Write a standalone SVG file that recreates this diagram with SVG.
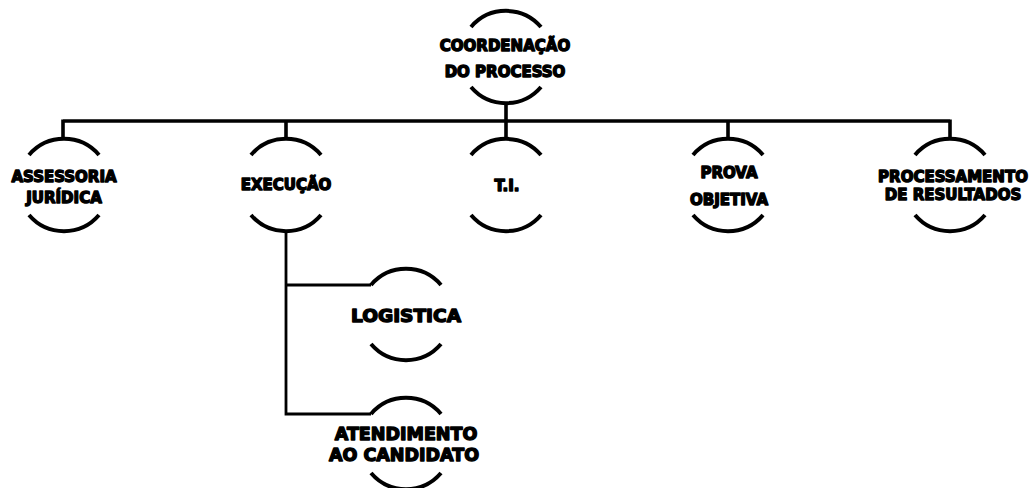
<svg xmlns="http://www.w3.org/2000/svg" width="1032" height="488" viewBox="0 0 1032 488">
<style>
.arc{fill:none;stroke:#000;stroke-width:4;stroke-linecap:butt}
.ln{fill:none;stroke:#000;stroke-width:3.6}
.ln2{fill:none;stroke:#000;stroke-width:2.8}
text{font-family:"DejaVu Sans","Liberation Sans",sans-serif;font-weight:bold;font-size:15px;fill:#000;stroke:#000;stroke-width:1.4;stroke-linejoin:round;text-anchor:middle}
.big{font-size:17.5px}
</style>
<rect width="1032" height="488" fill="#fff"/>
<g id="connectors">
<path class="ln" d="M506,103 V121 M63,121 H950 M63,119.5 V139 M286,119.5 V139 M506,119.5 V139 M728,119.5 V139 M950,119.5 V139"/>
<path class="ln2" d="M286,231 V414 H371 M286,285 H371"/>
</g>
<g id="n-coord">
<path class="arc" d="M471,27 A46,46 0 0 1 541,27 M471,87 A46,46 0 0 0 541,87"/>
<text x="505" y="51">COORDENAÇÃO</text>
<text x="505" y="77">DO PROCESSO</text>
</g>
<g id="n-assessoria">
<path class="arc" d="M29,155 A46,46 0 0 1 99,155 M29,215 A46,46 0 0 0 99,215"/>
<text x="64" y="182">ASSESSORIA</text>
<text x="64" y="203">JURÍDICA</text>
</g>
<g id="n-execucao">
<path class="arc" d="M251,155 A46,46 0 0 1 321,155 M251,215 A46,46 0 0 0 321,215"/>
<text x="286" y="190">EXECUÇÃO</text>
</g>
<g id="n-ti">
<path class="arc" d="M471,155 A46,46 0 0 1 541,155 M471,215 A46,46 0 0 0 541,215"/>
<text x="507" y="191">T.I.</text>
</g>
<g id="n-prova">
<path class="arc" d="M693,155 A46,46 0 0 1 763,155 M693,215 A46,46 0 0 0 763,215"/>
<text x="729" y="178">PROVA</text>
<text x="729" y="205">OBJETIVA</text>
</g>
<g id="n-processamento">
<path class="arc" d="M915,155 A46,46 0 0 1 985,155 M915,215 A46,46 0 0 0 985,215"/>
<text x="953" y="182">PROCESSAMENTO</text>
<text x="953" y="200">DE RESULTADOS</text>
</g>
<g id="n-logistica">
<path class="arc" d="M371,285 A46,46 0 0 1 441,285 M371,344 A46,46 0 0 0 441,344"/>
<text class="big" x="406" y="322" textLength="110" lengthAdjust="spacingAndGlyphs">LOGISTICA</text>
</g>
<g id="n-atendimento">
<path class="arc" d="M371,414 A46,46 0 0 1 441,414 M371,473 A46,46 0 0 0 441,473"/>
<text class="big" x="406" y="440">ATENDIMENTO</text>
<text class="big" x="404" y="461">AO CANDIDATO</text>
</g>
</svg>
